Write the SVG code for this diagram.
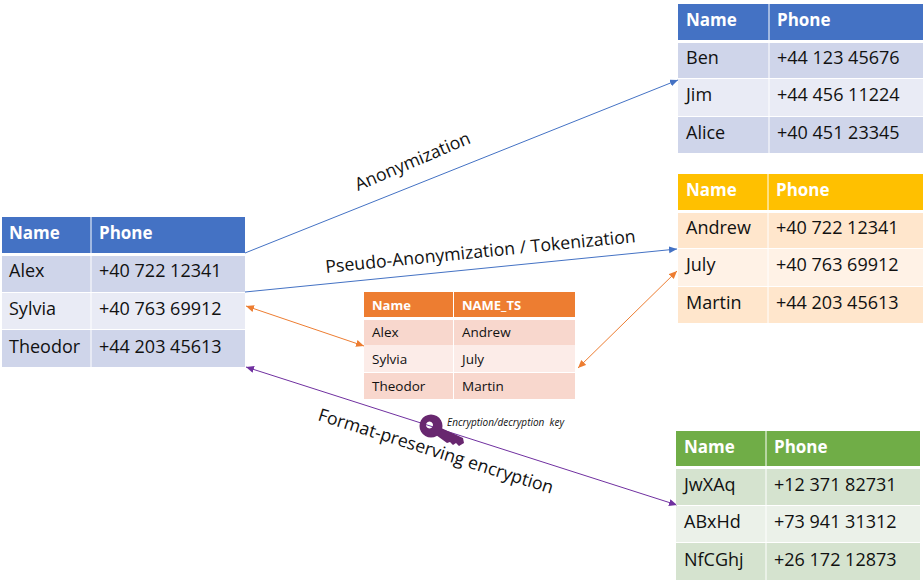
<svg xmlns="http://www.w3.org/2000/svg" width="924" height="581" viewBox="0 0 924 581">
<style>
text{font-family:"Open Sans","Noto Sans","Liberation Sans",sans-serif;fill:#111}
.h{font-weight:700;font-size:17px;fill:#fff}
.c{font-size:18px}
.hs{font-weight:700;font-size:13px;fill:#fff}
.cs{font-size:13.5px}
.l{font-size:17.7px}
.k{font-size:10px;font-style:italic;white-space:pre}
.blue{fill:#4472c4}.b1{fill:#cfd5ea}.b2{fill:#e9ebf5}
.yel{fill:#ffc000}.y1{fill:#ffe6cc}.y2{fill:#fff2e6}
.grn{fill:#70ad47}.g1{fill:#d5e3cf}.g2{fill:#ebf1e9}
.org{fill:#ed7d31}.o1{fill:#f8d7cd}.o2{fill:#fcece8}
.ln{fill:none;stroke-width:1}
</style>
<defs>
<marker id="aB" markerWidth="9" markerHeight="8" refX="8" refY="3.5" orient="auto-start-reverse" markerUnits="userSpaceOnUse"><path d="M0,0L8,3.5L0,7z" fill="#4472c4"/></marker>
<marker id="aO" markerWidth="9" markerHeight="8" refX="8" refY="3.5" orient="auto-start-reverse" markerUnits="userSpaceOnUse"><path d="M0,0L8,3.5L0,7z" fill="#ed7d31"/></marker>
<marker id="aP" markerWidth="9" markerHeight="8" refX="8" refY="3.5" orient="auto-start-reverse" markerUnits="userSpaceOnUse"><path d="M0,0L8,3.5L0,7z" fill="#7030a0"/></marker>
</defs>

<g id="connectors">
<line class="ln" x1="245" y1="253" x2="678" y2="80" stroke="#4472c4" marker-end="url(#aB)"/>
<line class="ln" x1="245" y1="292" x2="677" y2="249" stroke="#4472c4" marker-end="url(#aB)"/>
<line class="ln" x1="246" y1="306" x2="364" y2="346" stroke="#ed7d31" marker-start="url(#aO)" marker-end="url(#aO)"/>
<line class="ln" x1="578" y1="368" x2="677" y2="271" stroke="#ed7d31" marker-start="url(#aO)" marker-end="url(#aO)"/>
<line class="ln" x1="246" y1="367" x2="677" y2="505" stroke="#7030a0" marker-start="url(#aP)" marker-end="url(#aP)"/>
</g>

<g id="table-source">
<rect class="blue" x="2" y="217" width="243" height="36"/>
<rect class="b1" x="2" y="256" width="243" height="36"/>
<rect class="b2" x="2" y="293" width="243" height="36"/>
<rect class="b1" x="2" y="330" width="243" height="37"/>
<path d="M91 217V367" stroke="#fff" stroke-width="1"/>
<text class="h" x="9" y="239">Name</text><text class="h" x="99" y="239">Phone</text>
<text class="c" x="9" y="277">Alex</text><text class="c" x="99" y="277">+40 722 12341</text>
<text class="c" x="9" y="315">Sylvia</text><text class="c" x="99" y="315">+40 763 69912</text>
<text class="c" x="9" y="353">Theodor</text><text class="c" x="99" y="353">+44 203 45613</text>
</g>

<g id="table-anon">
<rect class="blue" x="678" y="4" width="245" height="36"/>
<rect class="b1" x="678" y="43" width="245" height="35"/>
<rect class="b2" x="678" y="79" width="245" height="37"/>
<rect class="b1" x="678" y="117" width="245" height="36"/>
<path d="M769 4V153" stroke="#fff" stroke-width="1"/>
<text class="h" x="686" y="26">Name</text><text class="h" x="777" y="26">Phone</text>
<text class="c" x="686" y="64">Ben</text><text class="c" x="777" y="64">+44 123 45676</text>
<text class="c" x="686" y="101">Jim</text><text class="c" x="777" y="101">+44 456 11224</text>
<text class="c" x="686" y="139">Alice</text><text class="c" x="777" y="139">+40 451 23345</text>
</g>

<g id="table-pseudo">
<rect class="yel" x="678" y="174" width="245" height="36"/>
<rect class="y1" x="678" y="213" width="245" height="35"/>
<rect class="y2" x="678" y="249" width="245" height="37"/>
<rect class="y1" x="678" y="287" width="245" height="36"/>
<path d="M768 174V323" stroke="#fff" stroke-width="1"/>
<text class="h" x="686" y="196">Name</text><text class="h" x="776" y="196">Phone</text>
<text class="c" x="686" y="234">Andrew</text><text class="c" x="776" y="234">+40 722 12341</text>
<text class="c" x="686" y="271">July</text><text class="c" x="776" y="271">+40 763 69912</text>
<text class="c" x="686" y="309">Martin</text><text class="c" x="776" y="309">+44 203 45613</text>
</g>

<g id="table-token">
<rect class="org" x="364" y="292" width="211" height="25"/>
<rect class="o1" x="364" y="320" width="211" height="25"/>
<rect class="o2" x="364" y="345" width="211" height="27"/>
<rect class="o1" x="364" y="373" width="211" height="26"/>
<path d="M453.5 292V399" stroke="#fff" stroke-width="1"/>
<text class="hs" x="372" y="310">Name</text><text class="hs" x="462" y="310">NAME_TS</text>
<text class="cs" x="372" y="337">Alex</text><text class="cs" x="462" y="337">Andrew</text>
<text class="cs" x="372" y="364">Sylvia</text><text class="cs" x="462" y="364">July</text>
<text class="cs" x="372" y="391">Theodor</text><text class="cs" x="462" y="391">Martin</text>
</g>

<g id="table-fpe">
<rect class="grn" x="676" y="431" width="244" height="35"/>
<rect class="g1" x="676" y="469" width="244" height="36"/>
<rect class="g2" x="676" y="506" width="244" height="36"/>
<rect class="g1" x="676" y="543" width="244" height="37"/>
<path d="M766 431V580" stroke="#fff" stroke-width="1"/>
<text class="h" x="684" y="453">Name</text><text class="h" x="774" y="453">Phone</text>
<text class="c" x="684" y="491">JwXAq</text><text class="c" x="774" y="491">+12 371 82731</text>
<text class="c" x="684" y="528">ABxHd</text><text class="c" x="774" y="528">+73 941 31312</text>
<text class="c" x="684" y="566">NfCGhj</text><text class="c" x="774" y="566">+26 172 12873</text>
</g>

<g id="label-anon"><text class="l" transform="translate(358,191) rotate(-23)">Anonymization</text></g>
<g id="label-pseudo"><text class="l" transform="translate(326,273) rotate(-5.7)">Pseudo-Anonymization / Tokenization</text></g>
<g id="label-fpe"><text class="l" transform="translate(317,420) rotate(17.5)">Format-preserving encryption</text></g>

<g id="key">
<path fill="#68276f" d="M439,427L463,438L464,443L459,446L456,443L453,445L450,442L447,443L436,435z"/>
<path fill-rule="evenodd" fill="#68276f" d="M431,414.500a11.500,11.500 0 1 0 .01,0zM429.500,421.500a3.500,3.500 0 1 1 -.01,0z"/>
<text class="k" x="447" y="426">Encryption/decryption  key</text>
</g>
</svg>
